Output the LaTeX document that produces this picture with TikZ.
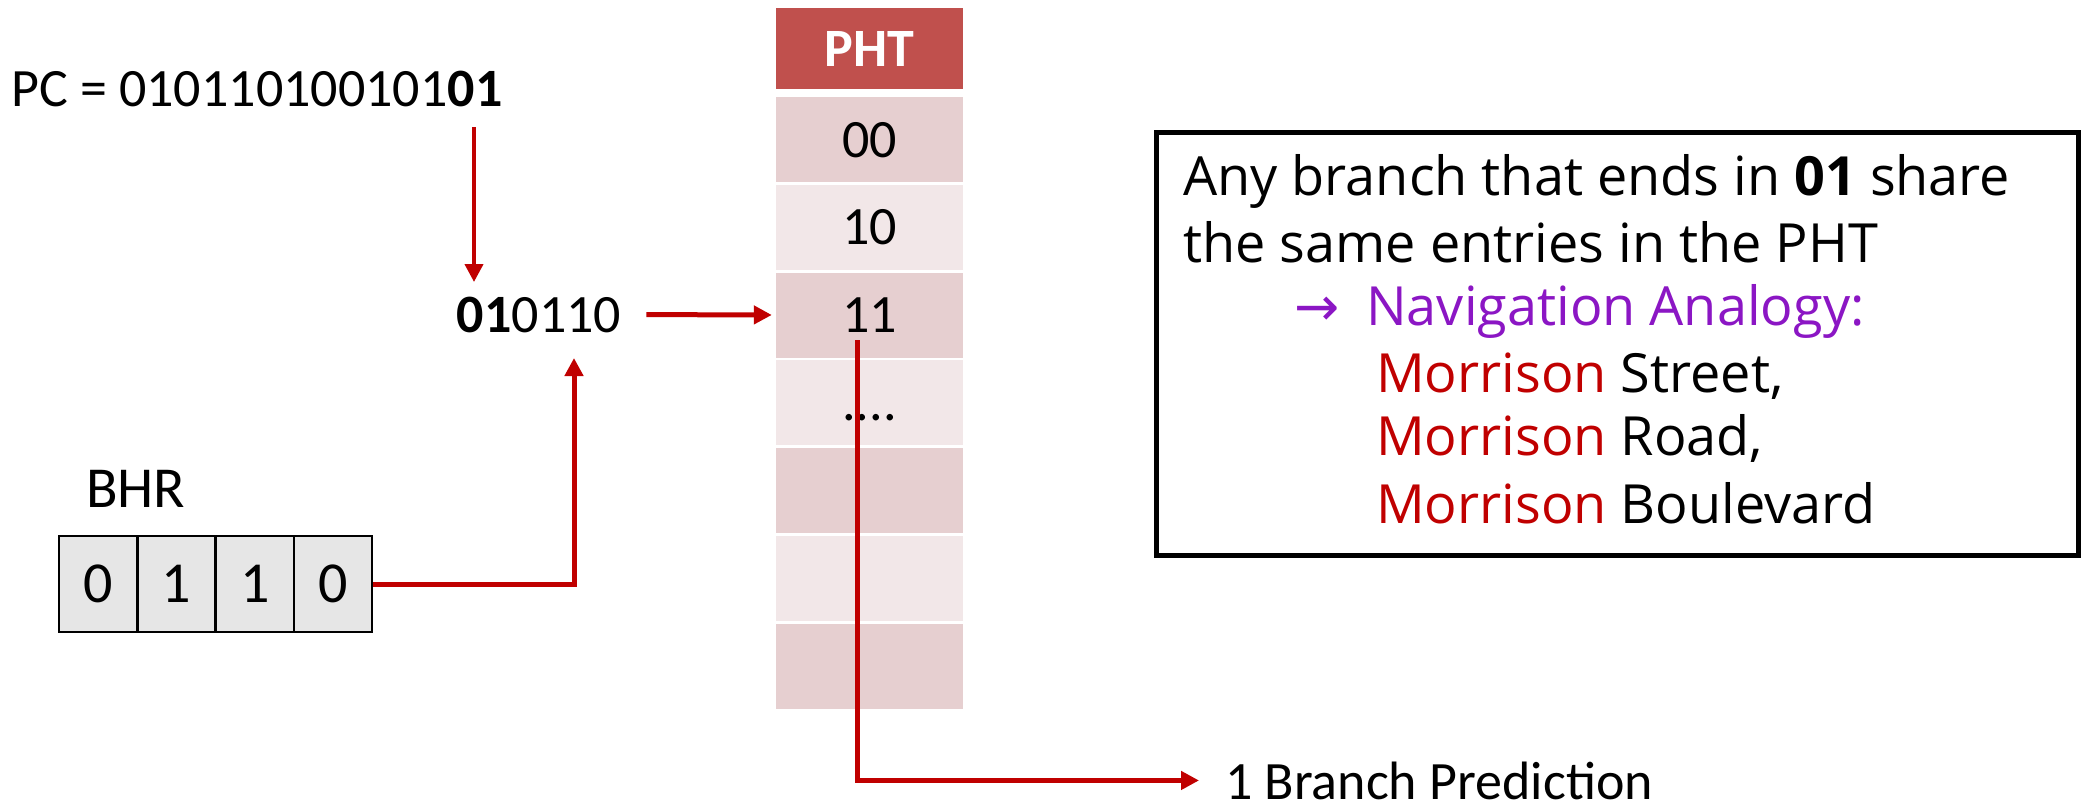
\documentclass[tikz,border=0pt]{standalone}
\usepackage{fontspec}
\usetikzlibrary{arrows.meta}
\setmainfont{Carlito}
\newfontfamily\notefont{Open Sans}
\newfontfamily\symfont{DejaVu Sans}

\definecolor{phthead}{HTML}{C0504D}
\definecolor{phtdark}{HTML}{E6CFD0}
\definecolor{phtlight}{HTML}{F2E7E8}
\definecolor{wire}{HTML}{C00000}
\definecolor{cellgray}{HTML}{E6E6E6}
\definecolor{notepurple}{HTML}{8B16C4}
\definecolor{notered}{HTML}{C00000}

\tikzset{
  big/.style={font=\fontsize{54}{60}\selectfont},
  pht/.style={minimum width=187pt, minimum height=85pt, inner sep=0pt,
    text height=35pt, text depth=0pt, big, text=black},
  bhrcell/.style={draw=black, line width=2.5pt, fill=cellgray,
    minimum width=78.3pt, minimum height=96pt, inner sep=0pt,
    font=\fontsize{58}{64}\selectfont},
  wirearrow/.style={draw=wire, line width=5pt,
    -{Triangle[length=18pt,width=18pt]}},
  noteline/.style={anchor=base west, inner sep=0pt,
    font=\notefont\fontsize{54}{60}\selectfont},
}

\begin{document}
\begin{tikzpicture}[x=1pt, y=-1pt]
  \useasboundingbox (0,0) rectangle (2083,811);

  % program counter and index
  \node[big, anchor=base west, inner sep=0pt] (pc) at (11,106)
    {PC = 010110100101\textbf{01}};
  \node[big, inner sep=0pt] (idx) at (539,314.5) {\textbf{01}0110};

  % pattern history table
  \node[pht, fill=phthead, minimum height=81pt, text=white,
    font=\bfseries\fontsize{54}{60}\selectfont] (head) at (869.5,48.5) {PHT};
  \node[pht, fill=phtdark]  (r0) at (869.5,139.5)  {00};
  \node[pht, fill=phtlight] (r1) at (869.5,227.25) {10};
  \node[pht, fill=phtdark]  (r2) at (869.5,315)    {11};
  \node[pht, fill=phtlight] (r3) at (869.5,402.75) {....};
  \node[pht, fill=phtdark]  (r4) at (869.5,490.5)  {};
  \node[pht, fill=phtlight] (r5) at (869.5,578.25) {};
  \node[pht, fill=phtdark]  (r6) at (869.5,666)    {};

  % branch history register
  \node[anchor=base west, inner sep=0pt, font=\fontsize{58}{64}\selectfont]
    (bhrlabel) at (86,507) {BHR};
  \node[bhrcell] (b0) at (98.1,584) {0};
  \node[bhrcell] (b1) at (176.4,584) {1};
  \node[bhrcell] (b2) at (254.7,584) {1};
  \node[bhrcell] (b3) at (333,584) {0};

  % prediction output
  \node[big, anchor=base west, inner sep=0pt] (pred) at (1225,799)
    {1 Branch Prediction};

  % connectors
  \coordinate (pcdrop) at (474,127);
  \coordinate (idxtop) at (474,282);
  \draw[wirearrow, line width=4pt] (pcdrop) -- (idxtop);
  \draw[wirearrow, shorten <=25pt, shorten >=4pt] (idx.east) -- (r2.west);
  \coordinate (idxbot) at (574,358);
  \draw[wirearrow] (b3.east) -| (idxbot);
  \coordinate (predstart) at (857,340);
  \draw[wirearrow, shorten >=26pt] (predstart) |- (pred.west);

  % note box
  \node[draw=black, line width=5pt, minimum width=922pt, minimum height=423pt,
    inner sep=0pt] (note) at (1617,343.5) {};
  \node[noteline] (l1) at (1183,195)
    {Any branch that ends in \textbf{01} share};
  \node[noteline] (l2) at (1183,262) {the same entries in the PHT};
  \node[noteline, text=notepurple] (l3) at (1294,325)
    {\makebox[72pt][l]{\symfont →}Navigation Analogy:};
  \node[noteline] (l4) at (1376,392) {\textcolor{notered}{Morrison} Street,};
  \node[noteline] (l5) at (1376,455) {\textcolor{notered}{Morrison} Road,};
  \node[noteline] (l6) at (1376,523) {\textcolor{notered}{Morrison} Boulevard};
\end{tikzpicture}
\end{document}
